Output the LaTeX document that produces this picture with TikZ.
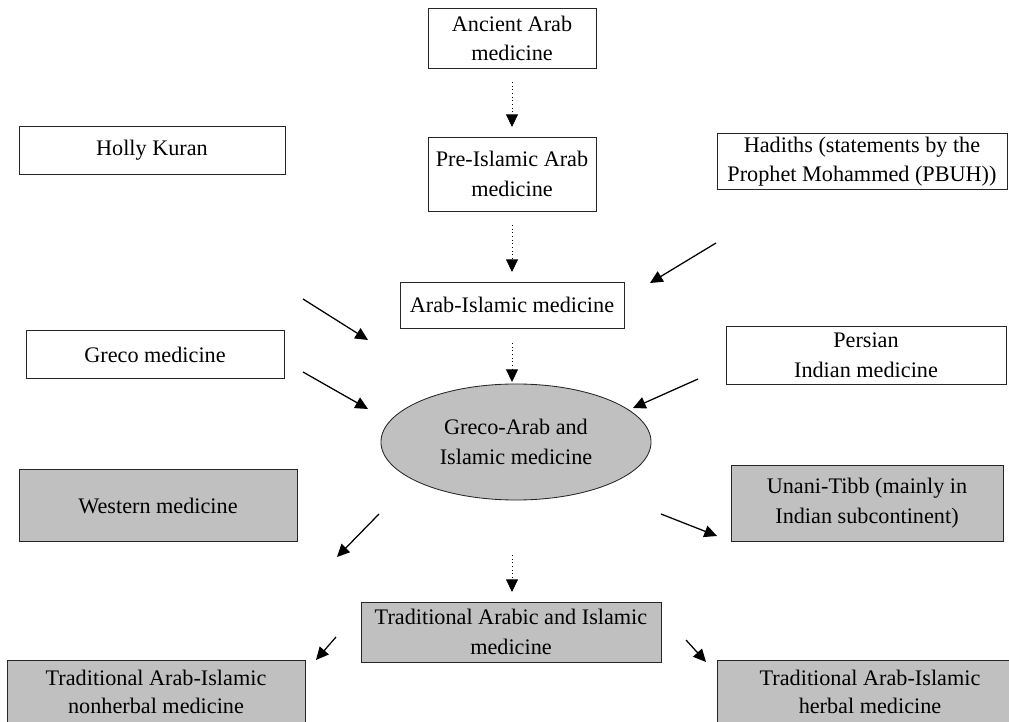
\documentclass[tikz,border=0pt]{standalone}
\usepackage{fontspec}
\setmainfont{Liberation Serif}
\usetikzlibrary{shapes.geometric,arrows.meta}
\definecolor{boxgray}{RGB}{192,192,192}

\tikzset{
  box/.style={draw=black!85, line width=0.6pt, rectangle, fill=white, inner sep=0pt, align=center, font=\fontsize{15.8}{21}\selectfont},
  grey/.style={box, fill=boxgray},
  arr/.style={line width=0.9pt, -{Triangle[length=9pt,width=8.5pt]}},
  dotarr/.style={line width=0.6pt, dotted, -{Triangle[length=9pt,width=8.5pt]}}
}

\begin{document}
\begin{tikzpicture}[x=0.025cm, y=-0.025cm]
            \useasboundingbox (0,0) rectangle (1009,722);
            \clip (0,0) rectangle (1009,722);

            \node[box, minimum width=4.2cm, minimum height=1.52cm] (ancient) at (512,38.5) {Ancient Arab\\medicine};
            \node[box, minimum width=4.2cm, minimum height=1.85cm] (preisl) at (512,174) {Pre-Islamic Arab\\medicine};
            \node[box, minimum width=6.65cm, minimum height=1.2cm] (kuran) at (152,150) {Holly Kuran};
            \node[box, minimum width=7.25cm, minimum height=1.42cm] (hadiths) at (862,161.5) {Hadiths (statements by the\\Prophet Mohammed (PBUH))};
            \node[box, minimum width=5.6cm, minimum height=1.15cm] (arabisl) at (512,305) {Arab-Islamic medicine};
            \node[box, minimum width=6.45cm, minimum height=1.18cm] (greco) at (155,354.5) {Greco medicine};
            \node[box, minimum width=7cm, minimum height=1.45cm] (persian) at (866,355) {Persian\\Indian medicine};
            \node[draw=black!85, line width=0.6pt, ellipse, fill=boxgray, inner sep=0pt, align=center, font=\fontsize{15.8}{21}\selectfont,
                  minimum width=6.75cm, minimum height=2.9cm] (grecoarab) at (516,442) {Greco-Arab and\\Islamic medicine};
            \node[grey, minimum width=6.95cm, minimum height=1.78cm] (western) at (158,505.5) {Western medicine};
            \node[grey, minimum width=6.8cm, minimum height=1.9cm] (unani) at (867,503) {Unani-Tibb (mainly in\\Indian subcontinent)};
            \node[grey, minimum width=7.5cm, minimum height=1.5cm] (tradai) at (511,632) {Traditional Arabic and Islamic\\medicine};
            \node[grey, minimum width=7.45cm, minimum height=1.6cm, font=\fontsize{15.8}{20}\selectfont] (nonherbal) at (156,692) {Traditional Arab-Islamic\\nonherbal medicine};
            \node[grey, minimum width=7.65cm, minimum height=1.6cm, font=\fontsize{15.8}{20}\selectfont] (herbal) at (870,692) {Traditional Arab-Islamic\\herbal medicine};

            % arrow ends
            \coordinate (d1a) at (512,82);  \coordinate (d1b) at (512,127);
            \coordinate (d2a) at (512,225); \coordinate (d2b) at (512,272);
            \coordinate (d3a) at (512,343); \coordinate (d3b) at (512,382);
            \coordinate (d4a) at (512,555); \coordinate (d4b) at (512,592);
            \coordinate (kuran-a) at (303,299);     \coordinate (kuran-b) at (368,340);
            \coordinate (hadiths-a) at (716,243);   \coordinate (hadiths-b) at (650,283);
            \coordinate (greco-a) at (303,372);     \coordinate (greco-b) at (368,409);
            \coordinate (persian-a) at (698,379);   \coordinate (persian-b) at (633,408);
            \coordinate (western-a) at (379,514);   \coordinate (western-b) at (337,557);
            \coordinate (unani-a) at (661,514);     \coordinate (unani-b) at (717,536);
            \coordinate (nonherbal-a) at (336,637); \coordinate (nonherbal-b) at (316,660);
            \coordinate (herbal-a) at (686,640);    \coordinate (herbal-b) at (706,662);

            \draw[dotarr] (d1a) -- (d1b);
            \draw[dotarr] (d2a) -- (d2b);
            \draw[dotarr] (d3a) -- (d3b);
            \draw[dotarr] (d4a) -- (d4b);

            \draw[arr] (kuran-a) -- (kuran-b);
            \draw[arr] (hadiths-a) -- (hadiths-b);
            \draw[arr] (greco-a) -- (greco-b);
            \draw[arr] (persian-a) -- (persian-b);
            \draw[arr] (western-a) -- (western-b);
            \draw[arr] (unani-a) -- (unani-b);
            \draw[arr] (nonherbal-a) -- (nonherbal-b);
            \draw[arr] (herbal-a) -- (herbal-b);
        \end{tikzpicture}
\end{document}
